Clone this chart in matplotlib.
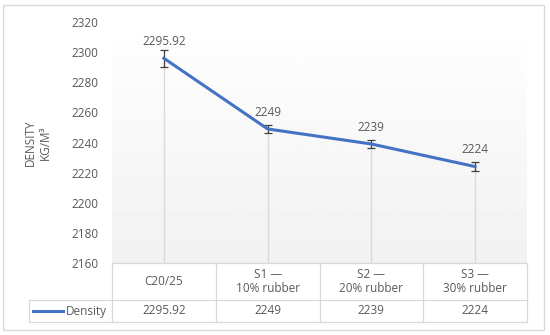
import numpy as np
import matplotlib.pyplot as plt
from matplotlib.patches import Rectangle
from matplotlib.transforms import blended_transform_factory

plt.rcParams['font.family'] = ['Open Sans', 'DejaVu Sans']

categories = ['C20/25', 'S1 —\n10% rubber', 'S2 —\n20% rubber', 'S3 —\n30% rubber']
density = [2295.92, 2249, 2239, 2224]
density_err = [5.5, 2.5, 2.5, 3.0]
value_labels = ['2295.92', '2249', '2239', '2224']
series_name = 'Density'
yticks = [2160, 2180, 2200, 2220, 2240, 2260, 2280, 2300, 2320]

blue = '#4472C4'
text_col = '#595959'
grid_col = '#D9D9D9'
fs = 8.5

fig = plt.figure(figsize=(5.5, 3.35), dpi=100)
ax = fig.add_axes([112/550, 1 - 263/335, 415/550, 241/335])

x = np.arange(len(categories))
ax.set_xlim(-0.5, len(categories) - 0.5)
ax.set_ylim(2160, 2320)

# gradient background
grad = np.linspace(1.0, 0.945, 256).reshape(-1, 1)
ax.imshow(grad, extent=[0, 1, 0, 1], transform=ax.transAxes, cmap='gray',
          vmin=0, vmax=1, aspect='auto', zorder=0)

# drop lines
ax.vlines(x, 2160, density, color=grid_col, lw=1, zorder=1)

ax.errorbar(x, density, yerr=density_err, fmt='none', ecolor='#404040',
            elinewidth=0.9, capsize=3, capthick=0.9, zorder=2)
ax.plot(x, density, color=blue, lw=2.2, zorder=3)

for xi, yi, lab in zip(x, density, value_labels):
    ax.annotate(lab, (xi, yi), xytext=(0, 12), textcoords='offset points',
                ha='center', va='center', fontsize=fs, color=text_col)

ax.set_yticks(yticks)
ax.set_yticklabels([str(t) for t in yticks], fontsize=fs, color=text_col)
ax.tick_params(axis='y', length=0, pad=10)
ax.set_xticks([])
for s in ax.spines.values():
    s.set_visible(False)
ax.set_ylabel('DENSITY\nKG/M³', fontsize=8.5, color=text_col, labelpad=14,
              linespacing=1.2)

# data table under the plot
tr = blended_transform_factory(ax.transData, ax.transAxes)
h1 = -37/241
h2 = -59/241
xl = -1.3
edges = np.arange(len(categories) + 1) - 0.5
kw = dict(color=grid_col, lw=0.9, transform=tr, clip_on=False)
ax.plot([edges[0], edges[-1]], [0, 0], **kw)
ax.plot([xl, edges[-1]], [h1, h1], **kw)
ax.plot([xl, edges[-1]], [h2, h2], **kw)
ax.plot([xl, xl], [h1, h2], **kw)
for e in edges:
    ax.plot([e, e], [0, h2], **kw)
for xi, cat, lab in zip(x, categories, value_labels):
    ax.text(xi, h1/2, cat, transform=tr, ha='center', va='center',
            fontsize=fs, color=text_col, linespacing=1.2)
    ax.text(xi, (h1 + h2)/2, lab, transform=tr, ha='center', va='center',
            fontsize=fs, color=text_col)
ax.plot([xl + 0.04, xl + 0.33], [(h1 + h2)/2]*2, color=blue, lw=2.2,
        transform=tr, clip_on=False)
ax.text(xl + 0.36, (h1 + h2)/2, series_name, transform=tr, ha='left',
        va='center', fontsize=fs, color=text_col)

# chart border
fig.patches.append(Rectangle((3/550, 5/335), 541/550, 325/335, fill=False,
                             edgecolor=grid_col, lw=1, transform=fig.transFigure))

fig.savefig('out.png', dpi=100)
